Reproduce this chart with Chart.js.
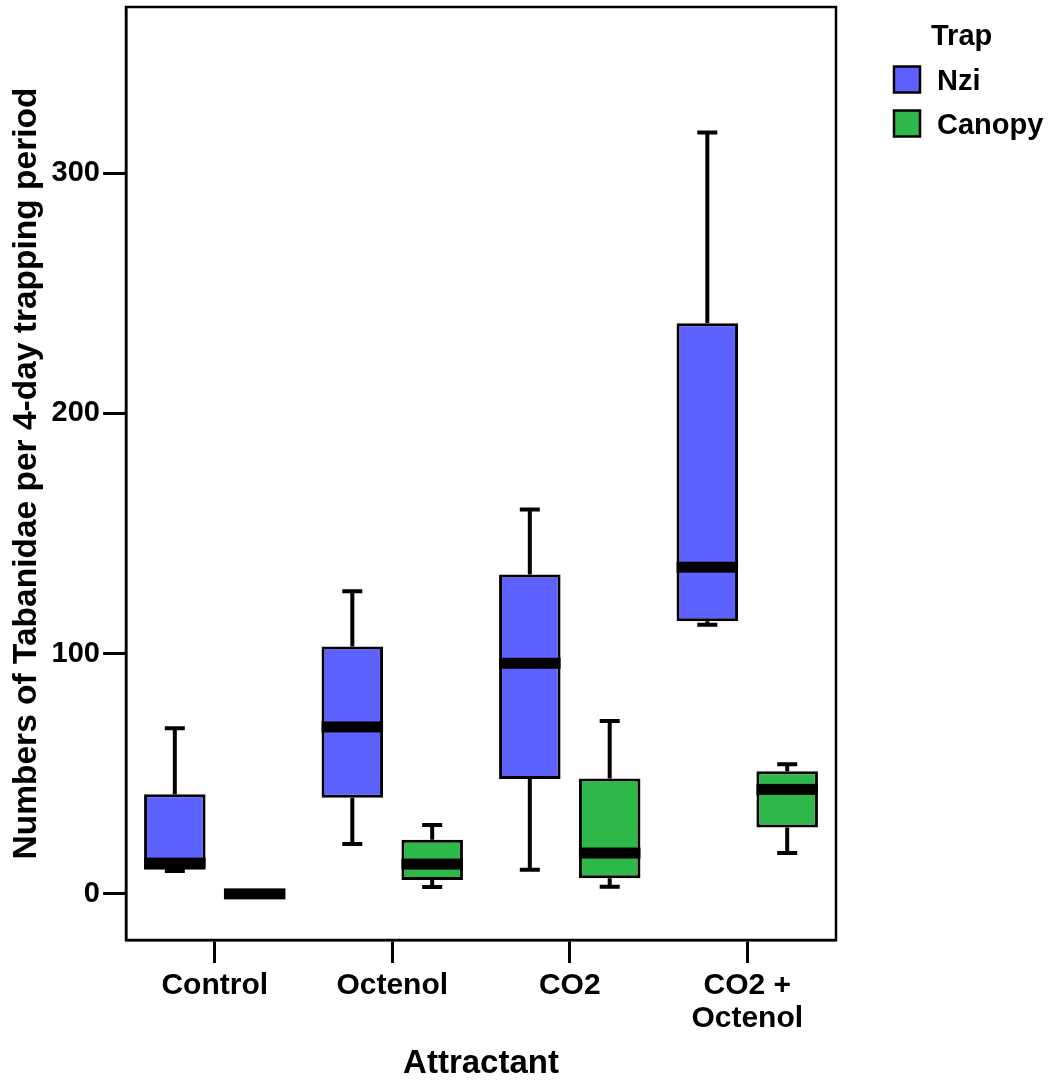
<!DOCTYPE html>
<html>
<head>
<meta charset="utf-8">
<script src="https://cdn.jsdelivr.net/npm/chart.js@4/dist/chart.umd.min.js"></script>
<style>
  html, body { margin: 0; padding: 0; background: #fff; }
  #wrap { width: 1052px; height: 1080px; }
</style>
</head>
<body>
<div id="wrap"><canvas id="boxChart" width="1052" height="1080"></canvas></div>
<script>
const categories = ["Control", "Octenol", "CO2", ["CO2 +", "Octenol"]]
const yTickValues = [0, 100, 200, 300]

// Nzi trap
const nziMin = [9.5, 20.8, 10, 112]
const nziQ1 = [10, 40, 47.8, 113.5]
const nziMedian = [12.8, 69.5, 96, 136]
const nziQ3 = [41.5, 103, 133, 237.5]
const nziMax = [69, 126, 160, 317]

// Canopy trap
const canopyMin = [0, 2.9, 3, 17]
const canopyQ1 = [0, 5.8, 6.5, 27.6]
const canopyMedian = [0, 12.4, 17, 43.5]
const canopyQ3 = [0, 22.5, 48, 51]
const canopyMax = [0, 28.7, 72, 54]

const FONT = "'Liberation Sans', Arial, Helvetica, sans-serif"
const nziColor = "rgb(92, 97, 255)"
const canopyColor = "rgb(46, 184, 74)"

const series = [
    { label: "Nzi", color: nziColor, min: nziMin, q1: nziQ1, med: nziMedian, q3: nziQ3, max: nziMax },
    { label: "Canopy", color: canopyColor, min: canopyMin, q1: canopyQ1, med: canopyMedian, q3: canopyQ3, max: canopyMax }
]

// whiskers + median bands on top of the floating bars
const boxExtras = {
    id: "boxExtras",
    afterDatasetsDraw(chart) {
        const ctx = chart.ctx
        const y = chart.scales.y
        ctx.save()
        series.forEach((s, di) => {
            const meta = chart.getDatasetMeta(di)
            meta.data.forEach((bar, i) => {
                const x = bar.x
                const half = bar.width / 2
                ctx.strokeStyle = "#000"
                ctx.lineWidth = 4
                ctx.lineCap = "butt"
                // upper whisker
                if (s.max[i] > s.q3[i]) {
                    ctx.beginPath()
                    ctx.moveTo(x, y.getPixelForValue(s.q3[i]))
                    ctx.lineTo(x, y.getPixelForValue(s.max[i]))
                    ctx.moveTo(x - 10, y.getPixelForValue(s.max[i]))
                    ctx.lineTo(x + 10, y.getPixelForValue(s.max[i]))
                    ctx.stroke()
                }
                // lower whisker
                if (s.min[i] < s.q1[i]) {
                    ctx.beginPath()
                    ctx.moveTo(x, y.getPixelForValue(s.q1[i]))
                    ctx.lineTo(x, y.getPixelForValue(s.min[i]))
                    ctx.moveTo(x - 10, y.getPixelForValue(s.min[i]))
                    ctx.lineTo(x + 10, y.getPixelForValue(s.min[i]))
                    ctx.stroke()
                }
                // median band
                const my = y.getPixelForValue(s.med[i])
                ctx.fillStyle = "#000"
                ctx.fillRect(x - half, my - 5.5, bar.width, 11)
            })
        })
        ctx.restore()
    }
}

// frame round the plot area and the legend on the right
const frameAndLegend = {
    id: "frameAndLegend",
    afterDraw(chart) {
        const ctx = chart.ctx
        const a = chart.chartArea
        ctx.save()
        ctx.strokeStyle = "#000"
        ctx.lineWidth = 2.5
        ctx.strokeRect(a.left, a.top, a.right - a.left, a.bottom - a.top)

        ctx.fillStyle = "#000"
        ctx.textBaseline = "alphabetic"
        ctx.textAlign = "left"
        ctx.font = "bold 29px " + FONT
        ctx.fillText("Trap", 931, 45)
        series.forEach((s, i) => {
            const top = 66.5 + i * 44
            ctx.fillStyle = s.color
            ctx.fillRect(894, top, 26, 26)
            ctx.strokeStyle = "#000"
            ctx.lineWidth = 2.5
            ctx.strokeRect(894, top, 26, 26)
            ctx.fillStyle = "#000"
            ctx.fillText(s.label, 937, top + 23.5)
        })
        ctx.restore()
    }
}

new Chart(document.getElementById("boxChart"), {
    type: "bar",
    data: {
        labels: categories,
        datasets: series.map(s => ({
            label: s.label,
            data: s.q1.map((v, i) => [v, s.q3[i]]),
            backgroundColor: s.color,
            borderColor: "#000",
            borderWidth: 3,
            borderSkipped: false,
            barPercentage: 0.77,
            categoryPercentage: 0.9
        }))
    },
    options: {
        responsive: false,
        animation: false,
        layout: { padding: { top: 7, right: 216, left: 0, bottom: 0 } },
        plugins: {
            legend: { display: false },
            tooltip: { enabled: false }
        },
        scales: {
            x: {
                grid: { display: true, offset: false, drawOnChartArea: false, tickLength: 23, tickWidth: 3, tickColor: "#000" },
                border: { display: true, color: "#000", width: 2.5 },
                ticks: {
                    color: "#000",
                    padding: 6,
                    maxRotation: 0,
                    font: { family: FONT, size: 30, weight: "bold", lineHeight: 1.1 }
                },
                title: {
                    display: true,
                    text: "Attractant",
                    color: "#000",
                    padding: { top: 0, bottom: 0 },
                    font: { family: FONT, size: 33, weight: "bold", lineHeight: 1 }
                },
                afterFit(scale) {
                    scale.height = 140
                    scale.paddingLeft = 0
                    scale.paddingRight = 0
                }
            },
            y: {
                min: -19.2,
                max: 369.2,
                afterBuildTicks(scale) { scale.ticks = yTickValues.map(v => ({ value: v })) },
                grid: { display: true, drawOnChartArea: false, tickLength: 23, tickWidth: 3, tickColor: "#000" },
                border: { display: true, color: "#000", width: 2.5 },
                ticks: {
                    color: "#000",
                    padding: 3,
                    font: { family: FONT, size: 29, weight: "bold" }
                },
                title: {
                    display: true,
                    text: "Numbers of Tabanidae per 4-day trapping period",
                    color: "#000",
                    padding: { top: 10, bottom: 0 },
                    font: { family: FONT, size: 33.5, weight: "bold", lineHeight: 1 }
                },
                afterFit(scale) {
                    scale.width = 126
                    scale.paddingTop = 0
                    scale.paddingBottom = 0
                }
            }
        }
    },
    plugins: [boxExtras, frameAndLegend]
});
</script>
</body>
</html>
